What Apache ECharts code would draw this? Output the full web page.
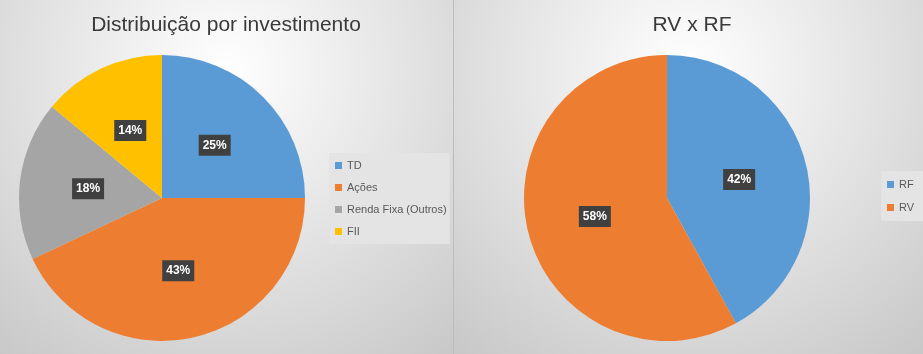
<!DOCTYPE html>
<html>
<head>
<meta charset="utf-8">
<script src="https://cdn.jsdelivr.net/npm/echarts@6/dist/echarts.min.js"></script>
<style>
  html, body { margin: 0; padding: 0; }
  #main { width: 923px; height: 354px; }
</style>
</head>
<body>
<div id="main"></div>
<script>
// dados dos dois gráficos
var invNames = ['TD', 'Ações', 'Renda Fixa (Outros)', 'FII'];
var invValues = [25, 43, 18, 14];
var invColors = ['#5B9BD5', '#ED7D31', '#A5A5A5', '#FFC000'];

var rvrfNames = ['RF', 'RV'];
var rvrfValues = [42, 58];
var rvrfColors = ['#5B9BD5', '#ED7D31'];

function toData(names, values, colors) {
    var res = [];
    for (var i = 0; i < names.length; i++) {
        res.push({ name: names[i], value: values[i], itemStyle: { color: colors[i] } });
    }
    return res;
}

var bgFill = function () {
    return new echarts.graphic.RadialGradient(0.5, 0.2, 1.1, [
        { offset: 0, color: '#ffffff' },
        { offset: 1, color: '#c4c4c4' }
    ]);
};

var pieLabel = {
    show: true,
    position: 'inside',
    formatter: '{c}%',
    color: '#fff',
    fontSize: 12,
    fontWeight: 'bold',
    fontFamily: 'Liberation Sans',
    backgroundColor: '#404040',
    padding: [5, 4, 4, 4]
};

var myChart = echarts.init(document.getElementById('main'));

var option = {
    animation: false,
    graphic: [
        { type: 'rect', z: -10, silent: true, shape: { x: 0, y: 0, width: 453, height: 354 }, style: { fill: bgFill() } },
        { type: 'rect', z: -10, silent: true, shape: { x: 454, y: 0, width: 469, height: 354 }, style: { fill: bgFill() } },
        { type: 'line', z: -9, silent: true, shape: { x1: 453.5, y1: 0, x2: 453.5, y2: 354 }, style: { stroke: '#bcbcbc', lineWidth: 1 } }
    ],
    title: [
        {
            text: 'Distribuição por investimento',
            left: 221, top: 10, textAlign: 'center',
            textStyle: { fontSize: 21, fontWeight: 'normal', color: '#3a3a3a', fontFamily: 'Liberation Sans' }
        },
        {
            text: 'RV x RF',
            left: 687, top: 10, textAlign: 'center',
            textStyle: { fontSize: 21, fontWeight: 'normal', color: '#3a3a3a', fontFamily: 'Liberation Sans' }
        }
    ],
    legend: [
        {
            data: invNames,
            orient: 'vertical',
            left: 329, top: 153,
            backgroundColor: '#e4e4e4',
            padding: [6, 3, 6, 6],
            icon: 'rect',
            itemWidth: 7, itemHeight: 7,
            itemGap: 9,
            textStyle: { fontSize: 11, color: '#595959', lineHeight: 13, fontFamily: 'Liberation Sans' }
        },
        {
            data: rvrfNames,
            orient: 'vertical',
            left: 881, top: 171,
            backgroundColor: '#e4e4e4',
            padding: [7, 14, 7, 6],
            icon: 'rect',
            itemWidth: 7, itemHeight: 7,
            itemGap: 10,
            textStyle: { fontSize: 11, color: '#595959', lineHeight: 13, fontFamily: 'Liberation Sans' }
        }
    ],
    series: [
        {
            type: 'pie',
            center: [162, 198],
            radius: 143,
            startAngle: 90,
            label: pieLabel,
            labelLine: { show: false },
            emphasis: { disabled: true },
            data: toData(invNames, invValues, invColors)
        },
        {
            type: 'pie',
            center: [667, 198],
            radius: 143,
            startAngle: 90,
            label: pieLabel,
            labelLine: { show: false },
            emphasis: { disabled: true },
            data: toData(rvrfNames, rvrfValues, rvrfColors)
        }
    ]
};

myChart.setOption(option);
</script>
</body>
</html>
